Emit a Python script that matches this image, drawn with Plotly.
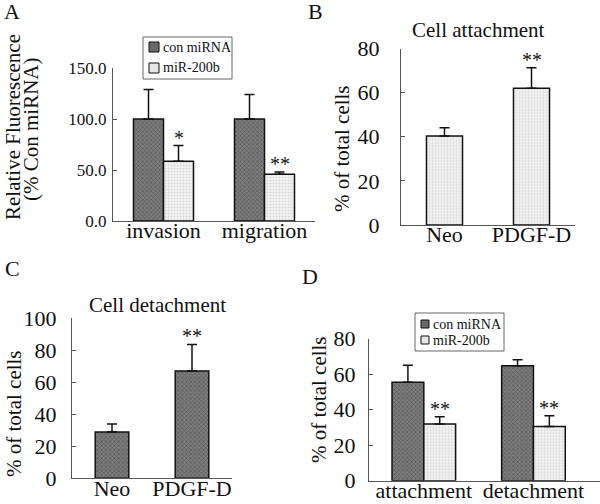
import plotly.graph_objects as go

W, H = 600, 504
FONT = "Liberation Serif, Times New Roman, Times, serif"

# ---------------- data ----------------
# Panel A
a_categories = ["invasion", "migration"]
a_con = [100.0, 100.0]
a_con_err = [29.0, 24.0]
a_mir = [58.5, 45.8]
a_mir_err = [15.5, 2.3]
a_sig = ["*", "**"]
a_yticks = [0, 50, 100, 150]
a_yticklabels = ["0.0", "50.0", "100.0", "150.0"]

# Panel B
b_categories = ["Neo", "PDGF-D"]
b_values = [40.3, 62.0]
b_err = [3.8, 9.3]
b_sig = ["", "**"]
b_yticks = [0, 20, 40, 60, 80]

# Panel C
c_categories = ["Neo", "PDGF-D"]
c_values = [29.0, 67.0]
c_err = [5.0, 16.7]
c_sig = ["", "**"]
c_yticks = [0, 20, 40, 60, 80, 100]

# Panel D
d_categories = ["attachment", "detachment"]
d_con = [55.4, 64.8]
d_con_err = [9.6, 3.4]
d_mir = [31.9, 30.6]
d_mir_err = [4.1, 6.0]
d_sig = ["**", "**"]
d_yticks = [0, 20, 40, 60, 80]

series_names = ["con miRNA", "miR-200b"]

# ---------------- styles ----------------
DARK_FILL = "#6a6a6a"
LIGHT_FILL = "#e6e6e6"
DARK = dict(color=DARK_FILL, line=dict(color="#111", width=1.5),
            pattern=dict(shape="x", size=3, solidity=0.4, fgcolor="#3c3c3c", bgcolor="#7c7c7c"))
LIGHT = dict(color=LIGHT_FILL, line=dict(color="#111", width=1.5),
             pattern=dict(shape=".", size=3, solidity=0.35, fgcolor="#bdbdbd", bgcolor="#f2f2f2"))


def px_x(p):
    return p / W


def px_y(p):
    return 1 - p / H


def err(arr):
    return dict(type="data", array=arr, arrayminus=[0] * len(arr), symmetric=False,
                color="#111", thickness=1.5, width=5)


fig = go.Figure()


def add_bar(cats, vals, errs, style, ax, offset, width, name=None):
    fig.add_trace(go.Bar(
        x=cats, y=vals, error_y=err(errs), marker=style,
        offset=offset, width=width, name=name, showlegend=False,
        xaxis="x" + ax, yaxis="y" + ax, hoverinfo="skip"))


def add_sig(cats, vals, errs, sigs, ax, offset, width):
    for i, (v, e, s) in enumerate(zip(vals, errs, sigs)):
        if s:
            fig.add_annotation(x=i + offset + width / 2, y=v + e, text=s,
                               xref="x" + ax, yref="y" + ax, showarrow=False,
                               yanchor="bottom", yshift=-5,
                               font=dict(family=FONT, size=20, color="#111"))


# Panel A
wA = 0.297
add_bar(a_categories, a_con, a_con_err, DARK, "", -wA, wA, series_names[0])
add_bar(a_categories, a_mir, a_mir_err, LIGHT, "", 0, wA, series_names[1])
add_sig(a_categories, a_mir, a_mir_err, a_sig, "", 0, wA)

# Panel B
wB = 0.414
add_bar(b_categories, b_values, b_err, LIGHT, "2", -wB / 2, wB)
add_sig(b_categories, b_values, b_err, b_sig, "2", -wB / 2, wB)

# Panel C
wC = 0.42
add_bar(c_categories, c_values, c_err, DARK, "3", -wC / 2, wC)
add_sig(c_categories, c_values, c_err, c_sig, "3", -wC / 2, wC)

# Panel D
wD = 0.29
add_bar(d_categories, d_con, d_con_err, DARK, "4", -wD, wD, series_names[0])
add_bar(d_categories, d_mir, d_mir_err, LIGHT, "4", 0, wD, series_names[1])
add_sig(d_categories, d_mir, d_mir_err, d_sig, "4", 0, wD)

AXC = "#555"


def xax(dom, rng, ay, fs=22, standoff=-10):
    return dict(domain=[px_x(dom[0]), px_x(dom[1])], range=rng, anchor=ay,
                showline=True, linecolor=AXC, linewidth=1, ticks="", showgrid=False,
                zeroline=False, tickfont=dict(family=FONT, size=fs, color="#111"),
                fixedrange=True, type="category", automargin=False,
                ticklabelstandoff=standoff)


def yax(dom, rng, ax, tv, tt=None, fs=22, standoff=3):
    d = dict(domain=[px_y(dom[1]), px_y(dom[0])], range=rng, anchor=ax,
             showline=True, linecolor=AXC, linewidth=1, ticks="inside", ticklen=4,
             tickcolor=AXC, showgrid=False, zeroline=False, tickvals=tv,
             tickfont=dict(family=FONT, size=fs, color="#111"), fixedrange=True,
             ticklabelstandoff=standoff, automargin=False)
    if tt is not None:
        d["ticktext"] = tt
    return d


fig.update_layout(
    width=W, height=H, margin=dict(l=0, r=0, t=0, b=0, autoexpand=False),
    paper_bgcolor="white", plot_bgcolor="rgba(0,0,0,0)",
    barmode="overlay", showlegend=False,
    font=dict(family=FONT, color="#111"),
    xaxis=xax((113, 315), [-0.5, 1.5], "y"),
    yaxis=yax((68, 221), [0, 150], "x", a_yticks, a_yticklabels, fs=17, standoff=2),
    xaxis2=xax((401, 575), [-0.5, 1.5], "y2"),
    yaxis2=yax((48.5, 225), [0, 80], "x2", b_yticks, standoff=16),
    xaxis3=xax((72, 232), [-0.5, 1.5], "y3"),
    yaxis3=yax((318.3, 478.3), [0, 100], "x3", c_yticks, standoff=10),
    xaxis4=xax((369, 600), [-0.5, 1.607], "y4"),
    yaxis4=yax((338.7, 480.7), [0, 80], "x4", d_yticks, standoff=8),
)


def txt(x, y, s, size, angle=0, anchor="center"):
    fig.add_annotation(x=px_x(x), y=px_y(y), xref="paper", yref="paper", text=s,
                       showarrow=False, textangle=angle, xanchor=anchor, yanchor="middle",
                       font=dict(family=FONT, size=size, color="#111"))


def legend_box(x0, y0, x1, y1, rows, sw, fs):
    # legend frame
    fig.add_shape(type="rect", xref="paper", yref="paper",
                  x0=px_x(x0), x1=px_x(x1), y0=px_y(y1), y1=px_y(y0),
                  line=dict(color="#666", width=1), fillcolor="white")
    for (yc, name, fill) in rows:
        fig.add_shape(type="rect", xref="paper", yref="paper",
                      x0=px_x(x0 + 6), x1=px_x(x0 + 6 + sw),
                      y0=px_y(yc + sw / 2), y1=px_y(yc - sw / 2),
                      line=dict(color="#111", width=1), fillcolor=fill)
        txt(x0 + 8 + sw, yc, name, fs, anchor="left")


legend_box(143, 37, 232, 79,
           [(47, series_names[0], DARK_FILL), (68, series_names[1], LIGHT_FILL)], 10, 14)
legend_box(415, 313, 504, 351,
           [(324, series_names[0], DARK_FILL), (340, series_names[1], LIGHT_FILL)], 8, 14)

# panel letters
txt(12, 11, "A", 22)
txt(315, 11, "B", 22)
txt(12, 268, "C", 22)
txt(310, 276, "D", 22)
# titles
txt(478, 30, "Cell attachment", 21)
txt(157, 305, "Cell detachment", 21)
# y titles
txt(13, 127, "Relative Fluorescence", 21, -90)
txt(31, 129, "(% Con miRNA)", 21, -90)
txt(342, 148, "% of total cells", 21, -90)
txt(14, 414, "% of total cells", 21, -90)
txt(319, 400, "% of total cells", 21, -90)

fig.write_html("out.html", config={"displayModeBar": False},
               post_script="document.body.style.margin='0px';")
